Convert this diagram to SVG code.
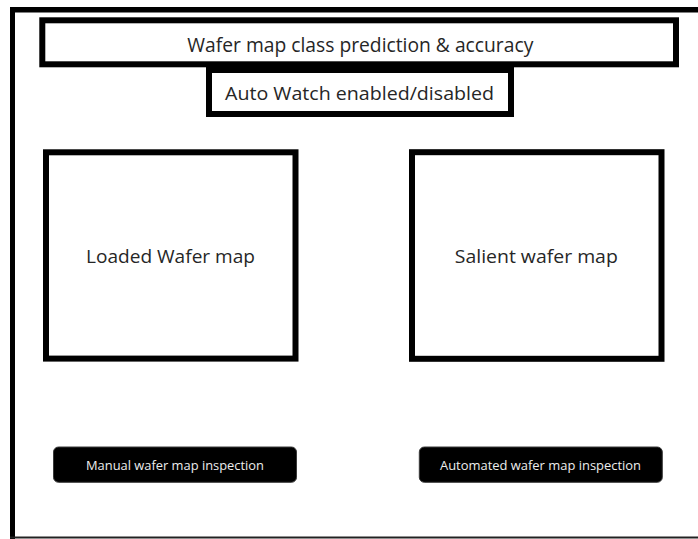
<svg xmlns="http://www.w3.org/2000/svg" width="698" height="539" viewBox="0 0 698 539">
<style>
.box{fill:#fff;stroke:#000;stroke-width:6}
.lbl{font-family:"Open Sans","Liberation Sans",sans-serif;fill:#262626;text-anchor:middle}
.btn{fill:#000;stroke:#3a3a3a;stroke-width:1}
.btxt{font-family:"Open Sans","Liberation Sans",sans-serif;fill:#ededed;text-anchor:middle;font-size:13px}
</style>
<rect x="0" y="0" width="698" height="539" fill="#fff"/>
<g id="frame">
<line x1="10" y1="9.8" x2="698" y2="9.8" stroke="#000" stroke-width="5.5"/>
<line x1="12.5" y1="7" x2="12.5" y2="539" stroke="#000" stroke-width="5"/>
<line x1="10" y1="537.5" x2="698" y2="537.5" stroke="#222" stroke-width="2"/>
</g>
<g id="connectors"></g>
<g id="title">
<rect class="box" x="42.3" y="20.3" width="633.7" height="44" />
<text class="lbl" x="360.3" y="51.7" font-size="20" textLength="346" lengthAdjust="spacingAndGlyphs">Wafer map class prediction &amp; accuracy</text>
</g>
<g id="autowatch">
<rect class="box" x="209" y="70" width="302" height="44"/>
<text class="lbl" x="359.5" y="100" font-size="19" textLength="269" lengthAdjust="spacingAndGlyphs">Auto Watch enabled/disabled</text>
</g>
<g id="loaded">
<rect class="box" x="46" y="152.3" width="249.5" height="206.3"/>
<text class="lbl" x="170.5" y="263.3" font-size="18.5" textLength="169" lengthAdjust="spacingAndGlyphs">Loaded Wafer map</text>
</g>
<g id="salient">
<rect class="box" x="412" y="152.2" width="249.5" height="206.6"/>
<text class="lbl" x="536.3" y="263.3" font-size="18.5" textLength="163" lengthAdjust="spacingAndGlyphs">Salient wafer map</text>
</g>
<g id="manual">
<rect class="btn" x="53.5" y="447" width="243" height="35.3" rx="5"/>
<text class="btxt" x="175" y="470" textLength="178" lengthAdjust="spacingAndGlyphs">Manual wafer map inspection</text>
</g>
<g id="automated">
<rect class="btn" x="419.3" y="447" width="243" height="35.3" rx="5"/>
<text class="btxt" x="540.5" y="470" textLength="201" lengthAdjust="spacingAndGlyphs">Automated wafer map inspection</text>
</g>
</svg>
